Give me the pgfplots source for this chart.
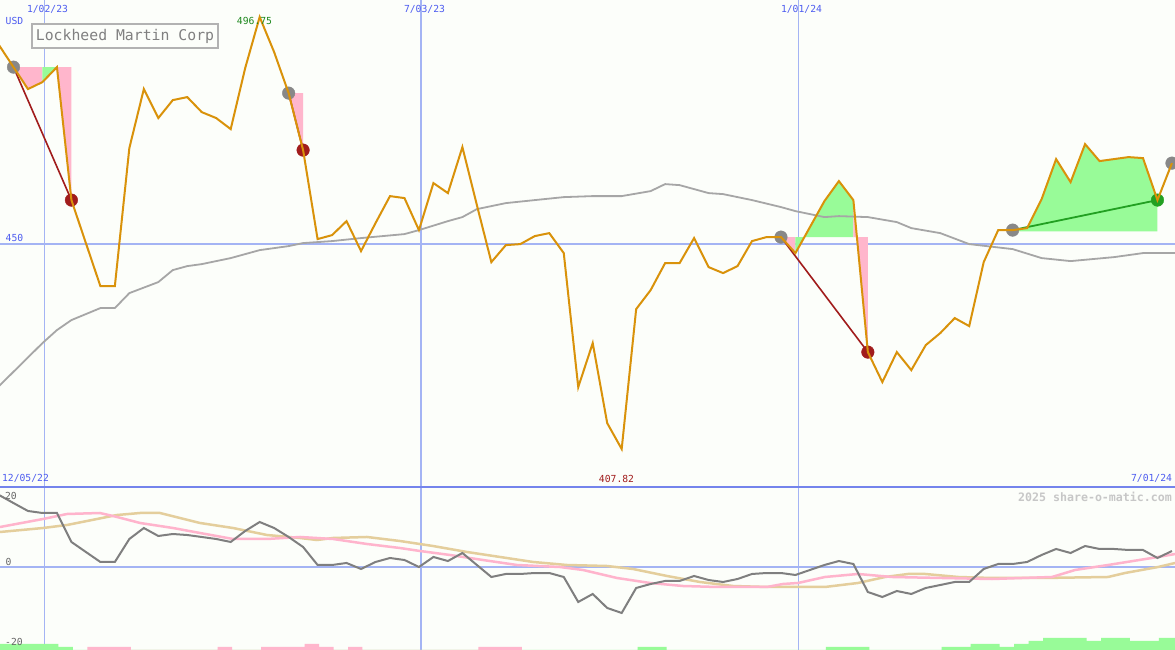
\documentclass[border=0pt]{standalone}
\usepackage{pgfplots}
\pgfplotsset{compat=1.18}
\usepackage{fontspec}
\setmainfont{DejaVu Sans Mono}
\newfontfamily\mono{DejaVu Sans Mono}
\definecolor{bg}{HTML}{FCFEFA}
\definecolor{gridblue}{HTML}{A4B4F4}
\definecolor{sepblue}{HTML}{7484EC}
\definecolor{lblblue}{HTML}{4D5CF0}
\definecolor{price}{HTML}{D9920A}
\definecolor{magray}{HTML}{A6A6A6}
\definecolor{pinkfill}{HTML}{FFB6CC}
\definecolor{greenfill}{HTML}{98FB98}
\definecolor{dkred}{HTML}{A11C1C}
\definecolor{dkgreen}{HTML}{22A022}
\definecolor{dotgray}{HTML}{888888}
\definecolor{mom}{HTML}{7F7F7F}
\definecolor{pinkline}{HTML}{FFB4CC}
\definecolor{tanline}{HTML}{E4CE9C}
\newcommand\lbl{\mono\fontsize{9.7}{10}\selectfont}
\pgfplotsset{panel/.style={scale only axis, width=1175pt, xmin=-0.932, xmax=80.21,
  axis line style={draw=none}, xtick=\empty, ytick=\empty, clip marker paths=true}}
\begin{document}
\begin{tikzpicture}
\useasboundingbox (0,0) rectangle (1175pt,650pt);
\fill[bg] (0,0) rectangle (1175pt,650pt);
% ---------------- top panel ----------------
\begin{axis}[panel, at={(0pt,163pt)}, anchor=south west, height=487pt, ymin=400, ymax=500.25]
\draw[gridblue, line width=1pt] (axis cs:2.12,400) -- (axis cs:2.12,500.25);
\draw[gridblue, line width=2pt] (axis cs:28.13,400) -- (axis cs:28.13,500.25);
\draw[gridblue, line width=1pt] (axis cs:54.2,400) -- (axis cs:54.2,500.25);
\draw[gridblue, line width=2pt] (axis cs:-1,450) -- (axis cs:81,450);
% shaded regions
\addplot[fill=pinkfill, draw=none] coordinates {(0,486.43) (1,481.91) (2,483.35) (2,486.43)};
\addplot[fill=greenfill, draw=none] coordinates {(2,483.35) (3,486.43) (2,486.43)};
\addplot[fill=pinkfill, draw=none] coordinates {(3,486.43) (4,459.06) (4,486.43)};
\addplot[fill=pinkfill, draw=none] coordinates {(19,481.08) (20,469.35) (20,481.08)};
\addplot[fill=pinkfill, draw=none] coordinates {(53,451.44) (54,448.15) (54,451.44)};
\addplot[fill=greenfill, draw=none] coordinates {(54,451.44) (54,448.15) (55,453.5) (56,458.85) (57,462.97) (58,459.06) (58,451.44)};
\addplot[fill=pinkfill, draw=none] coordinates {(58,459.06) (59,427.77) (59,451.44) (58,451.44)};
\addplot[fill=greenfill, draw=none] coordinates {(69,452.6) (70,453.29) (71,459.26) (72,467.50) (73,462.76) (74,470.58) (75,467.09) (76,467.50) (77,467.91) (78,467.70) (79,459.06) (79,452.6)};
% moving average
\addplot[magray, line width=1.8pt] coordinates {(-1,420.77) (2,429.62) (3,432.30) (4,434.36) (6,436.83) (7,436.83) (8,439.91) (10,442.18) (11,444.65) (12,445.47) (13,445.88) (15,447.12) (17,448.76) (19,449.59) (20,450.21) (22,450.62) (24,451.24) (27,452.06) (28,452.88) (30,454.73) (31,455.56) (32,457.20) (34,458.44) (36,459.06) (38,459.67) (40,459.88) (42,459.88) (44,460.91) (45,462.35) (46,462.14) (48,460.50) (49,460.29) (51,459.06) (53,457.62) (54,456.79) (56,455.56) (57,455.76) (59,455.56) (61,454.53) (62,453.29) (64,452.26) (66,450.0) (69,448.97) (71,447.12) (73,446.50) (76,447.32) (78,448.15) (80.22,448.15)};
% trend lines
\addplot[dkred, line width=1.6pt] coordinates {(0,486.43) (4,459.06)};
\addplot[dkred, line width=1.6pt] coordinates {(19,481.08) (20,469.35)};
\addplot[dkred, line width=1.6pt] coordinates {(53,451.44) (59,427.77)};
\addplot[dkgreen, line width=1.8pt] coordinates {(69,452.88) (79,459.06)};
% dots
\addplot[color=dotgray, only marks, mark=*, mark size=6.3pt, mark options={fill=dotgray, draw=dotgray}] coordinates {(0,486.43) (19,481.08) (53,451.44) (69,452.88) (80,466.67)};
\addplot[color=dkred, only marks, mark=*, mark size=6.3pt, mark options={fill=dkred, draw=dkred}] coordinates {(4,459.06) (20,469.35) (59,427.77)};
\addplot[color=dkgreen, only marks, mark=*, mark size=6.3pt, mark options={fill=dkgreen, draw=dkgreen}] coordinates {(79,459.06)};
% price
\addplot[price, line width=2pt] coordinates {(-1,490.96) (0,486.43) (1,481.91) (2,483.35) (3,486.43) (4,459.06) (5,450.2) (6,441.35) (7,441.35) (8,469.76) (9,481.91) (10,475.94) (11,479.64) (12,480.26) (13,477.17) (14,475.94) (15,473.67) (16,486.23) (17,496.75) (18,489.52) (19,481.08) (20,469.35) (21,451.03) (22,451.85) (23,454.73) (24,448.56) (25,454.32) (26,459.88) (27,459.47) (28,452.88) (29,462.56) (30,460.50) (31,469.97) (32,458.03) (33,446.29) (34,449.79) (35,450.0) (36,451.65) (37,452.26) (38,448.15) (39,420.56) (40,429.62) (41,413.15) (42,407.82) (43,436.62) (44,440.53) (45,446.09) (46,446.09) (47,451.24) (48,445.27) (49,444.03) (50,445.47) (51,450.62) (52,451.44) (53,451.44) (54,448.15) (55,453.5) (56,458.85) (57,462.97) (58,459.06) (59,427.77) (60,421.59) (61,427.77) (62,424.06) (63,429.21) (64,431.68) (65,434.77) (66,433.12) (67,446.29) (68,452.88) (69,452.88) (70,453.29) (71,459.26) (72,467.50) (73,462.76) (74,470.58) (75,467.09) (76,467.50) (77,467.91) (78,467.70) (79,459.06) (80,466.67)};
\end{axis}
% ---------------- bottom panel ----------------
\begin{axis}[panel, at={(0pt,0pt)}, anchor=south west, height=163pt, ymin=-20.5, ymax=20]
\draw[gridblue, line width=1pt] (axis cs:2.12,-20.5) -- (axis cs:2.12,20);
\draw[gridblue, line width=2pt] (axis cs:28.13,-20.5) -- (axis cs:28.13,20);
\draw[gridblue, line width=1pt] (axis cs:54.2,-20.5) -- (axis cs:54.2,20);
\draw[gridblue, line width=2pt] (axis cs:-1,0) -- (axis cs:81,0);
\addplot[tanline, line width=2.5pt] coordinates {(-0.93,8.82) (2.04,9.81) (3.69,10.56) (7.15,13.04) (8.74,13.54) (10.12,13.54) (12.88,11.06) (15.16,9.81) (17.51,8.07) (19.79,7.33) (20.95,6.83) (22.07,7.33) (24.41,7.58) (26.69,6.58) (28.97,5.34) (31.32,3.85) (33.6,2.61) (35.88,1.37) (38.22,0.62) (40.99,0.37) (42.78,-0.37) (45.13,-2.11) (47.4,-3.60) (49.69,-4.60) (52.04,-4.84) (54.18,-4.84) (56.04,-4.84) (58.32,-3.85) (60.19,-2.36) (61.78,-1.61) (62.95,-1.61) (65.23,-2.36) (67.57,-2.61) (71.03,-2.61) (75.59,-2.36) (76.76,-1.37) (79.04,0.12) (80.22,1.12)};
\addplot[pinkline, line width=2.5pt] coordinates {(-0.93,10.06) (2.04,12.05) (3.69,13.29) (5.97,13.54) (7.15,12.55) (8.74,11.06) (11.02,9.81) (12.88,8.57) (15.16,7.08) (17.51,7.08) (19.79,7.58) (22.07,7.08) (24.41,5.84) (26.69,4.84) (28.07,4.10) (30.14,3.11) (32.42,1.86) (34.77,0.62) (37.74,0.12) (39.33,-0.62) (41.68,-2.61) (43.96,-3.85) (46.24,-4.60) (48.58,-4.84) (52.04,-4.84) (53.14,-4.10) (54.18,-3.85) (56.04,-2.36) (58.32,-1.61) (60.67,-2.36) (64.12,-2.61) (67.57,-2.86) (71.72,-2.36) (73.31,-0.62) (75.59,0.62) (79.04,2.61) (80.22,3.35)};
\addplot[mom, line width=2pt] coordinates {(-1,18.01) (0,16.01) (1,14.04) (2,13.54) (3,13.54) (4,6.34) (5,3.85) (6,1.37) (7,1.37) (8,7.08) (9,9.81) (10,7.83) (11,8.32) (12,8.07) (13,7.58) (14,7.08) (15,6.34) (16,9.07) (17,11.30) (18,9.81) (19,7.58) (20,5.09) (21,0.62) (22,0.62) (23,1.12) (24,-0.37) (25,1.37) (26,2.36) (27,1.86) (28,0.12) (29,2.61) (30,1.61) (31,3.60) (32,0.62) (33,-2.36) (34,-1.61) (35,-1.61) (36,-1.37) (37,-1.37) (38,-2.36) (39,-8.57) (40,-6.58) (41,-10.06) (42,-11.30) (43,-5.09) (44,-4.10) (45,-3.35) (46,-3.35) (47,-2.11) (48,-3.11) (49,-3.60) (50,-2.86) (51,-1.61) (52,-1.37) (53,-1.37) (54,-1.86) (55,-0.62) (56,0.62) (57,1.61) (58,0.87) (59,-6.09) (60,-7.33) (61,-5.84) (62,-6.58) (63,-5.09) (64,-4.35) (65,-3.60) (66,-3.60) (67,-0.37) (68,0.87) (69,0.87) (70,1.37) (71,3.11) (72,4.60) (73,3.60) (74,5.34) (75,4.60) (76,4.60) (77,4.35) (78,4.35) (79,2.36) (80,4.10)};
\end{axis}
% ---------------- bars ----------------
\begin{axis}[panel, at={(0pt,0pt)}, anchor=south west, height=163pt, ymin=0, ymax=163]
\addplot[const plot, fill=greenfill, draw=none] coordinates {(-1,6) (3.1,3) (4.1,0) (43.1,3) (45.1,0) (56.1,3) (59.1,0) (64.1,3) (66.1,6) (68.1,3) (69.1,6) (70.1,9) (71.1,12) (74.1,9) (75.1,12) (77.1,9) (79.1,12) (81,12)} \closedcycle;
\addplot[const plot, fill=pinkfill, draw=none] coordinates {(5.1,3) (8.1,0) (14.1,3) (15.1,0) (17.1,3) (20.1,6) (21.1,3) (22.1,0) (23.1,3) (24.1,0) (32.1,3) (35.1,0)} \closedcycle;
\end{axis}
\draw[sepblue, line width=2pt] (0,163pt) -- (1175pt,163pt);
% ---------------- labels ----------------
\node[font=\lbl, text=lblblue] at (14.5pt,629pt) {USD};
\node[font=\lbl, text=lblblue] at (47.5pt,641pt) {1/02/23};
\node[font=\lbl, text=lblblue] at (424.5pt,641pt) {7/03/23};
\node[font=\lbl, text=lblblue] at (801.5pt,641pt) {1/01/24};
\node[font=\lbl, text=dkgreen!85!black] at (254.5pt,629pt) {496.75};
\node[font=\lbl, text=lblblue] at (14.5pt,412pt) {450};
\node[font=\lbl, text=lblblue] at (25.5pt,171.5pt) {12/05/22};
\node[font=\lbl, text=dkred] at (616.5pt,171pt) {407.82};
\node[font=\lbl, text=lblblue] at (1151.5pt,171.5pt) {7/01/24};
\node[font=\mono\fontsize{11.6}{12}\selectfont\bfseries, text=black!22] at (1095pt,153.5pt) {2025 share-o-matic.com};
\node[font=\lbl, text=black!60] at (11pt,154.5pt) {20};
\node[font=\lbl, text=black!60] at (8.5pt,88.5pt) {0};
\node[font=\lbl, text=black!60] at (14pt,8pt) {-20};
\node[draw=black!30, line width=2pt, fill=bg, text=black!50, font=\mono\fontsize{14.8}{16}\selectfont,
  minimum width=186pt, minimum height=24pt, inner sep=0pt] at (125pt,614pt) {Lockheed Martin Corp};
\end{tikzpicture}
\end{document}
